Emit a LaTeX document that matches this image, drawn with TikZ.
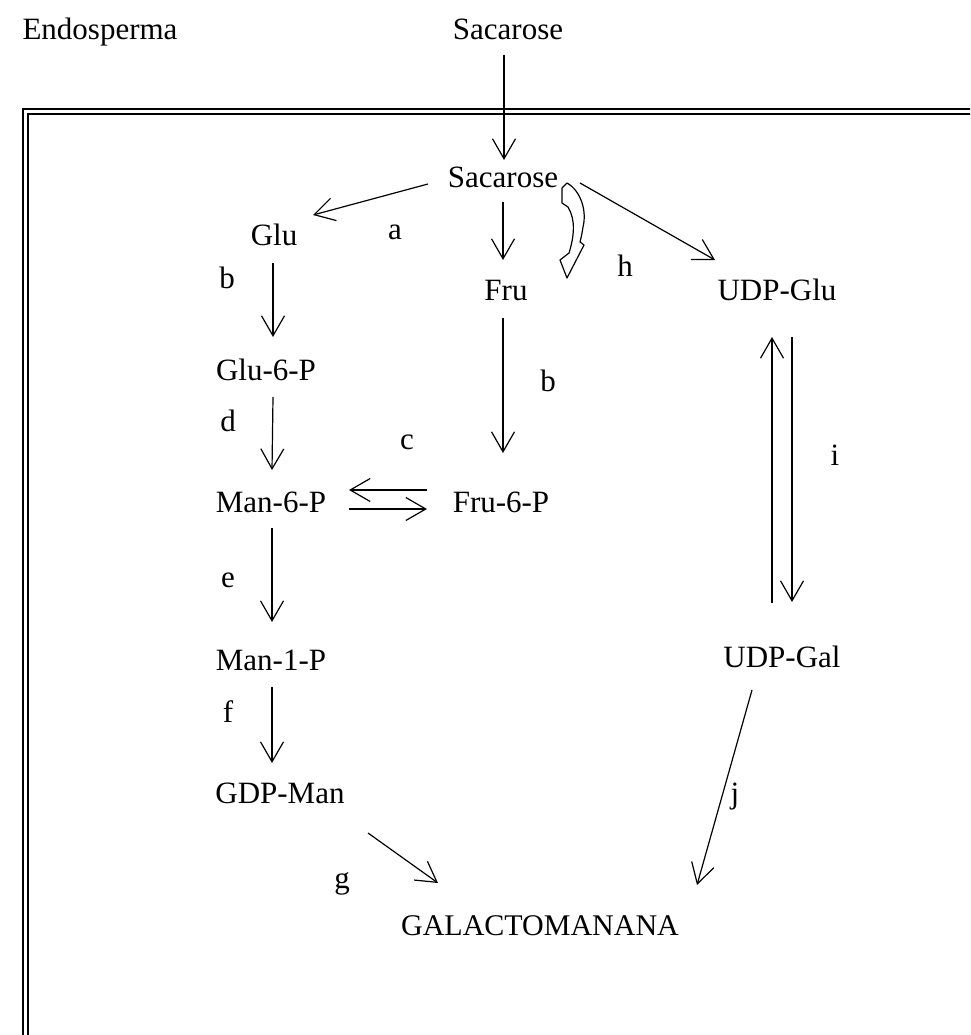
\documentclass[tikz,border=0pt]{standalone}
\usepackage{fontspec}
\setmainfont{Liberation Serif}
\usetikzlibrary{arrows.meta,calc}

\tikzset{
  met/.style={anchor=base, inner sep=0pt, text height=22pt, text depth=7pt,
              font=\fontsize{31}{36}\selectfont},
  enz/.style={anchor=base, inner sep=0pt, font=\fontsize{31}{36}\selectfont},
  arr/.style={line width=1.2pt, -{Straight Barb[length=20pt,width=23pt,line width=1.2pt]}},
  frameout/.style={line width=2.2pt},
  framein/.style={line width=1.6pt},
  blockarr/.style={line width=1.2pt, fill=white, line join=round}
}

\begin{document}
\begin{tikzpicture}[x=1pt,y=-1pt]
  \useasboundingbox (0,0) rectangle (970,1035);
  \clip (0,0) rectangle (970,1035);

  % double frame of the seed compartment (runs off the right and bottom edges)
  \draw[frameout] (23,109) rectangle (1010,1080);
  \draw[framein]  (28,114) rectangle (1005,1075);

  % metabolites
  \node[met] (endo)   at (100,40)  {Endosperma};
  \node[met] (suc0)   at (508,40)  {Sacarose};
  \node[met] (suc)    at (503,187) {Sacarose};
  \node[met] (glu)    at (274,245) {Glu};
  \node[met] (fru)    at (506,300) {Fru};
  \node[met] (udpglu) at (777,300) {UDP-Glu};
  \node[met] (glu6p)  at (266,380) {Glu-6-P};
  \node[met] (man6p)  at (271,512) {Man-6-P};
  \node[met] (fru6p)  at (501,512) {Fru-6-P};
  \node[met] (man1p)  at (271,670) {Man-1-P};
  \node[met] (udpgal) at (782,667) {UDP-Gal};
  \node[met] (gdpman) at (280,803) {GDP-Man};
  \node[met, font=\fontsize{30}{34}\selectfont] (galmn) at (540,935) {GALACTOMANANA};

  % enzyme letters
  \node[enz] (ea)  at (395,239) {a};
  \node[enz] (eb1) at (227,288) {b};
  \node[enz] (eb2) at (548,391) {b};
  \node[enz] (ec)  at (407,449) {c};
  \node[enz] (ed)  at (228,431) {d};
  \node[enz] (ee)  at (228,587) {e};
  \node[enz] (ef)  at (228,722) {f};
  \node[enz] (eg)  at (342,888) {g};
  \node[enz] (eh)  at (625,276) {h};
  \node[enz] (ei)  at (835,465) {i};
  \node[enz] (ej)  at (735,803) {j};

  % reactions
  \draw[arr] ([shift={(-4,15)}]suc0.base)   -- ([shift={(1,-27)}]suc.base);
  \draw[arr] ([shift={(-75,-3)}]suc.base)   -- ([shift={(39,-30)}]glu.base);
  \draw[arr] ([shift={(0,15)}]suc.base)     -- ([shift={(-3,-40)}]fru.base);
  \draw[arr] ([shift={(77,-4)}]suc.base)    -- ([shift={(-62,-40)}]udpglu.base);
  \draw[arr] ([shift={(-1,18)}]glu.base)    -- ([shift={(7,-43)}]glu6p.base);
  \draw[arr] ([shift={(-3,18)}]fru.base)    -- ([shift={(2,-59)}]fru6p.base);
  \draw[arr] ([shift={(7,17)}]glu6p.base)   -- ([shift={(1,-42)}]man6p.base);
  \draw[arr] ([shift={(-74,-22)}]fru6p.base) -- ([shift={(78,-22)}]man6p.base);
  \draw[arr] ([shift={(78,-3)}]man6p.base)  -- ([shift={(-74,-3)}]fru6p.base);
  \draw[arr] ([shift={(1,16)}]man6p.base)   -- ([shift={(1,-48)}]man1p.base);
  \draw[arr] ([shift={(1,17)}]man1p.base)   -- ([shift={(-8,-40)}]gdpman.base);
  \draw[arr] ([shift={(88,30)}]gdpman.base) -- ([shift={(-102,-52)}]galmn.base);
  \draw[arr] ([shift={(-30,23)}]udpgal.base) -- ([shift={(157,-50)}]galmn.base);
  \draw[arr] ([shift={(-10,-64)}]udpgal.base) -- ([shift={(-5,37)}]udpglu.base);
  \draw[arr] ([shift={(15,37)}]udpglu.base) -- ([shift={(10,-65)}]udpgal.base);

  % hollow curved arrow beside the inner Sacarose
  \begin{scope}[shift={(suc.base)}]
    \draw[blockarr] (64,-4) .. controls (78,4) and (84,24) .. (80,40)
      .. controls (79,47) and (78,51) .. (77,55)
      -- (81,58) -- (64,91) -- (57,73) -- (66,66)
      .. controls (71,50) and (73,33) .. (65,20) -- (59,16) -- (59,1) -- cycle;
  \end{scope}
\end{tikzpicture}
\end{document}
